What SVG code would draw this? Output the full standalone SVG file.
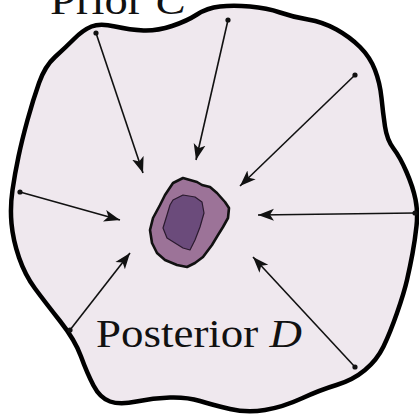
<svg xmlns="http://www.w3.org/2000/svg" width="419" height="417" viewBox="0 0 419 417">
<style>
.lbl{font-family:"Liberation Serif","DejaVu Serif",serif;font-size:39px;fill:#111}
.it{font-style:italic}
.arr{stroke:#111;stroke-width:1.6;fill:none;marker-end:url(#ah);marker-start:url(#dot)}
</style>
<defs>
<marker id="ah" markerUnits="userSpaceOnUse" markerWidth="20" markerHeight="14" refX="16" refY="7" orient="auto">
<path d="M0,1 L16,7 L0,13 L4,7 Z" fill="#111"/>
</marker>
<marker id="dot" markerUnits="userSpaceOnUse" markerWidth="8" markerHeight="8" refX="4" refY="4">
<circle cx="4" cy="4" r="2.6" fill="#111"/>
</marker>
</defs>
<rect width="419" height="417" fill="#fff"/>
<g id="prior">
<path d="M18.5,156.5 Q22,140 27.5,120 Q33,100 39,83 Q45,66 55,57 Q65,48 74,39 Q83,30 91.5,26.5 Q100,23 115,26.5 Q130,30 143.5,30.5 Q157,31 172,26 Q187,21 197,14.5 Q207,8 220,6.5 Q233,5 250,6.5 Q267,8 280,12.5 Q293,17 308,19.5 Q323,22 336.5,29.5 Q350,37 360,47 Q370,57 375,70 Q380,83 381.5,98 Q383,113 385,126.5 Q387,140 393.5,148.5 Q400,157 406.5,172 Q413,187 415.5,199.5 Q418,212 416.5,226 Q415,240 412.5,253.5 Q410,267 407,280 Q404,293 397,313 Q390,333 383.5,346.5 Q377,360 365,370 Q353,380 336.5,385 Q320,390 301.5,398.5 Q283,407 265,410 Q247,413 230,409 Q213,405 200,401 Q187,397 170,397.5 Q153,398 136.5,401.5 Q120,405 110,401.5 Q100,398 93.5,385.5 Q87,373 81,356.5 Q75,340 60,321 Q45,302 35,288.5 Q25,275 19,257.5 Q13,240 11.5,223.5 Q10,207 12.5,190 Q15,173 18.5,156.5 Z" fill="#efe8ee" stroke="#000" stroke-width="4.5" stroke-linejoin="round"/>
</g>
<g id="connectors">
<path class="arr" d="M96,33 L143,173"/>
<path class="arr" d="M228,20 L196,160"/>
<path class="arr" d="M355,75 L240,186"/>
<path class="arr" d="M20,192 L120,220"/>
<path class="arr" d="M415,213 L258,215"/>
<path class="arr" d="M70,330 L130,253"/>
<path class="arr" d="M355,367 L253,257"/>
</g>
<g id="posterior">
<path d="M173,183 L183,178 L197,182 L202,185 L210,187 L217,193 L225,202 L229,208 L228,218 L223,227 L218,235 L212,245 L203,257 L195,263 L187,267 L177,265 L165,260 L157,253 L152,243 L150,230 L153,218 L160,205 L165,195 Z" fill="#9c7398" stroke="#111" stroke-width="2.6" stroke-linejoin="round"/>
<path d="M173,200 L183,195 L195,197 L202,202 L204,213 L200,227 L195,240 L190,250 L183,248 L175,243 L167,238 L163,228 L167,215 L170,205 Z" fill="#6b4b7b" stroke="#2a1a2e" stroke-width="1.2" stroke-linejoin="round"/>
</g>
<g id="labels">
<text class="lbl" x="50" y="14" textLength="136" lengthAdjust="spacingAndGlyphs">Prior <tspan class="it">C</tspan></text>
<text class="lbl" x="96" y="347" textLength="206" lengthAdjust="spacingAndGlyphs">Posterior <tspan class="it">D</tspan></text>
</g>
</svg>
